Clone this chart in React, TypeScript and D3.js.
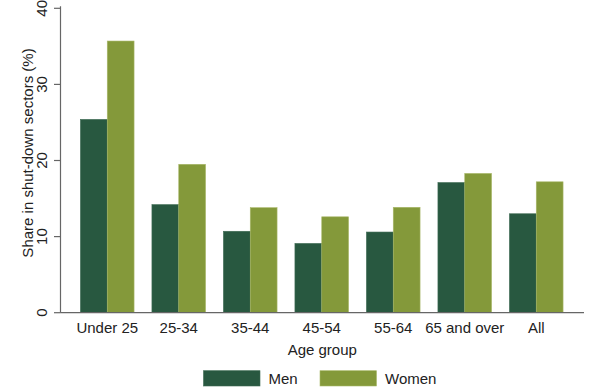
import React from "react";
import * as d3 from "d3";

const categories = ["Under 25", "25-34", "35-44", "45-54", "55-64", "65 and over", "All"];
const men = [25.4, 14.2, 10.7, 9.1, 10.6, 17.1, 13.0];
const women = [35.7, 19.5, 13.8, 12.6, 13.85, 18.3, 17.2];
const yTicks = [0, 10, 20, 30, 40];
const seriesNames = ["Men", "Women"];
const seriesColors = ["#285840", "#84993a"];

const W = 600;
const H = 390;
const axisLeft = 60.5;
const axisRight = 584;
const y0 = 312.7;
const yTop = 8.3;

export default function App() {
  const x = d3
    .scaleBand<string>()
    .domain(categories)
    .range([71.5, 572])
    .paddingInner(0.25)
    .paddingOuter(0.125);
  const sub = d3
    .scaleBand<string>()
    .domain(seriesNames)
    .range([0, x.bandwidth()])
    .padding(0);
  const y = d3.scaleLinear().domain([0, 40]).range([y0, yTop]);
  const font = "'Liberation Sans', Arial, sans-serif";
  const series = [men, women];

  return (
    <svg
      width={W}
      height={H}
      style={{ position: "absolute", left: 0, top: 0, background: "#fff" }}
      fontFamily={font}
    >
      <rect x={0} y={0} width={W} height={H} fill="#fff" />
      {categories.map((c, i) => (
        <g key={c}>
          {series.map((vals, s) => (
            <rect
              key={s}
              x={(x(c) ?? 0) + (sub(seriesNames[s]) ?? 0)}
              y={y(vals[i])}
              width={sub.bandwidth()}
              height={y0 - y(vals[i])}
              fill={seriesColors[s]}
              stroke={s === 1 ? "#a9b86a" : "#3d6a52"}
              strokeWidth={0.6}
            />
          ))}
        </g>
      ))}
      {/* y axis */}
      <line x1={axisLeft} x2={axisLeft} y1={yTop - 2} y2={y0} stroke="#666" strokeWidth={1.2} />
      {yTicks.map((t) => (
        <g key={t}>
          <line x1={54} x2={axisLeft} y1={y(t)} y2={y(t)} stroke="#666" strokeWidth={1.2} />
          <text
            transform={`translate(46.5,${y(t)}) rotate(-90)`}
            textAnchor="middle"
            fontSize={15}
            fill="#222"
          >
            {t}
          </text>
        </g>
      ))}
      {/* x axis */}
      <line x1={axisLeft} x2={axisRight} y1={y0} y2={y0} stroke="#666" strokeWidth={1.2} />
      {categories.map((c) => (
        <text
          key={c}
          x={(x(c) ?? 0) + x.bandwidth() / 2}
          y={333}
          textAnchor="middle"
          fontSize={15}
          fill="#222"
        >
          {c}
        </text>
      ))}
      <text x={(axisLeft + axisRight) / 2} y={355} textAnchor="middle" fontSize={15} fill="#222">
        Age group
      </text>
      <text
        transform={`translate(33,153) rotate(-90)`}
        textAnchor="middle"
        fontSize={15}
        fill="#222"
      >
        Share in shut-down sectors (%)
      </text>
      {/* legend */}
      {seriesNames.map((n, i) => {
        const lx = i === 0 ? 203.5 : 320;
        return (
          <g key={n}>
            <rect
              x={lx}
              y={370.7}
              width={56.5}
              height={15.3}
              fill={seriesColors[i]}
              stroke={i === 1 ? "#a9b86a" : "#3d6a52"}
              strokeWidth={0.6}
            />
            <text x={lx + 65} y={384} fontSize={15} fill="#222">
              {n}
            </text>
          </g>
        );
      })}
    </svg>
  );
}
